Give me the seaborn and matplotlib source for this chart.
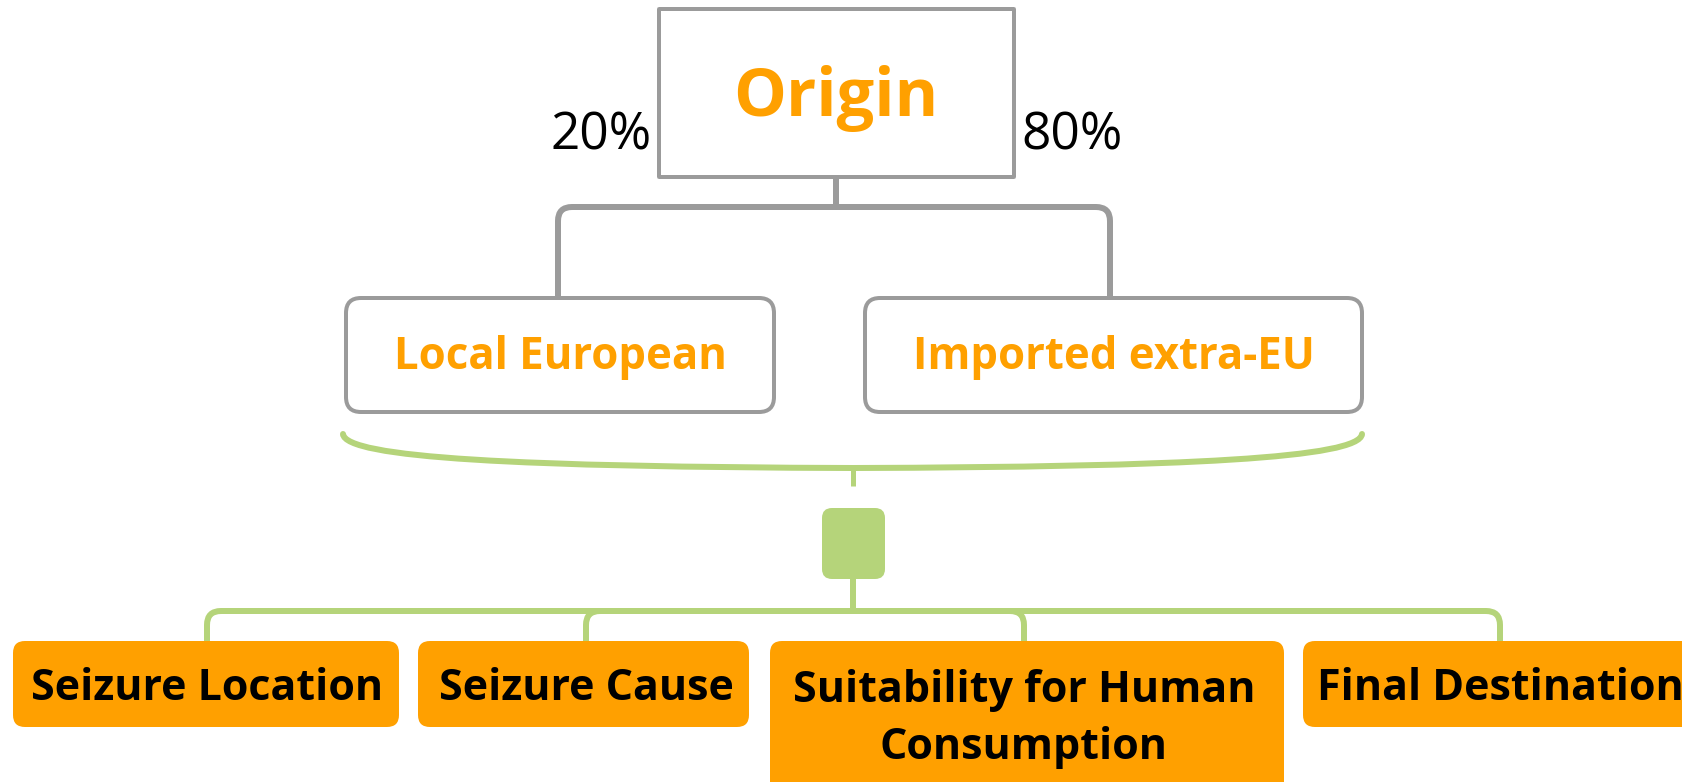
import seaborn as sns
import matplotlib.pyplot as plt
from matplotlib.patches import FancyBboxPatch, PathPatch
from matplotlib.path import Path

# diagram content
root_label = 'Origin'
origin_labels = ['Local European', 'Imported extra-EU']
origin_shares = ['20%', '80%']
attribute_labels = ['Seizure Location', 'Seizure Cause',
                    'Suitability for Human\nConsumption', 'Final Destination']

GRAY = '#9b9b9b'
ORANGE = '#ffa000'
GREEN = '#b5d47a'

sns.set_theme(style='white')
plt.rcParams['font.family'] = ['Open Sans', 'DejaVu Sans']

fig = plt.figure(figsize=(16.82, 7.82), dpi=100)
ax = fig.add_axes([0, 0, 1, 1])
ax.set_xlim(0, 1682)
ax.set_ylim(782, 0)
ax.axis('off')

PX = 0.72  # points per pixel at 100 dpi


def box(x0, y0, x1, y1, r, fc, ec, lw):
    p = FancyBboxPatch((x0 + r, y0 + r), x1 - x0 - 2 * r, y1 - y0 - 2 * r,
                       boxstyle=f'round,pad={r},rounding_size={r}',
                       fc=fc, ec=ec, lw=lw * PX, zorder=2)
    ax.add_patch(p)


def elbow(x0, y0, ymid, x1, y1, color, lw, r=14):
    # vertical from (x0,y0) to ymid, horizontal to x1 with a rounded corner, down to y1
    s = 1 if x1 > x0 else -1
    verts = [(x0, y0), (x0, ymid), (x1 - s * r, ymid), (x1, ymid), (x1, ymid + r), (x1, y1)]
    codes = [Path.MOVETO, Path.LINETO, Path.LINETO, Path.CURVE3, Path.CURVE3, Path.LINETO]
    ax.add_patch(PathPatch(Path(verts, codes), fc='none', ec=color, lw=lw * PX,
                           capstyle='butt', joinstyle='round', zorder=1))


# root box
box(659, 9, 1014, 177, 0.5, 'white', GRAY, 4)
ax.text(836, 99, root_label, ha='center', va='center', color=ORANGE,
        fontsize=48, fontweight='bold', zorder=3)
ax.text(652, 136, origin_shares[0], ha='right', va='center', color='black', fontsize=37)
ax.text(1021, 136, origin_shares[1], ha='left', va='center', color='black', fontsize=37)

# origin boxes
origin_boxes = [(346, 298, 774, 412), (865, 298, 1362, 412)]
origin_x = [558, 1110]
for (x0, y0, x1, y1), cx, lab in zip(origin_boxes, origin_x, origin_labels):
    elbow(836, 177, 207, cx, y0, GRAY, 6)
    box(x0, y0, x1, y1, 15, 'white', GRAY, 4)
    ax.text((x0 + x1) / 2, (y0 + y1) / 2 + 3, lab, ha='center', va='center', color=ORANGE,
            fontsize=31.5, fontweight='bold', zorder=3)

# brace under origin boxes
brace = Path([(343, 434), (345, 458), (520, 467), (853, 468),
              (1186, 467), (1360, 458), (1362, 434)],
             [Path.MOVETO, Path.CURVE4, Path.CURVE4, Path.CURVE4,
              Path.CURVE4, Path.CURVE4, Path.CURVE4])
ax.add_patch(PathPatch(brace, fc='none', ec=GREEN, lw=6 * PX, capstyle='round', zorder=1))
ax.plot([853, 853], [468, 486], color=GREEN, lw=5 * PX, solid_capstyle='butt')

# green hub
box(822, 508, 885, 579, 10, GREEN, 'none', 0)

# attribute boxes
attr_boxes = [(13, 641, 399, 727), (418, 641, 749, 727),
              (770, 641, 1284, 800), (1303, 641, 1700, 727)]
attr_x = [207, 586, 1024, 1500]
attr_text_y = [689, 689, 719, 689]
for (x0, y0, x1, y1), cx, ty, lab in zip(attr_boxes, attr_x, attr_text_y, attribute_labels):
    elbow(853, 579, 611, cx, y0, GREEN, 6)
    box(x0, y0, x1, y1, 12, ORANGE, 'none', 0)
    ax.text(cx, ty, lab, ha='center', va='center', color='black', fontsize=31,
            fontweight='bold', linespacing=1.42, zorder=3)

fig.savefig('out.png', dpi=100)
